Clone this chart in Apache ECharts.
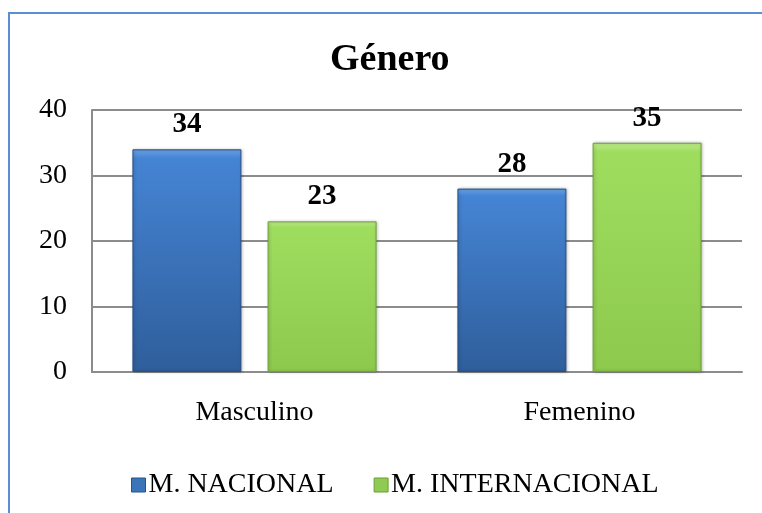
<!DOCTYPE html>
<html>
<head>
<meta charset="utf-8">
<script src="https://cdn.jsdelivr.net/npm/echarts@6/dist/echarts.min.js"></script>
<style>
  html, body { margin: 0; padding: 0; background: #fff; }
  #chart { width: 762px; height: 513px; }
</style>
</head>
<body>
<div id="chart"></div>
<script>
  // datos
  var categorias = ['Masculino', 'Femenino'];
  var nacional = [34, 28];
  var internacional = [23, 35];
  var yTicks = [0, 10, 20, 30, 40];

  var fuente = '"Liberation Serif", "Times New Roman", serif';

  // degradado vertical con borde superior claro (bisel)
  function bisel(luz, arriba, abajo) {
    return {
      type: 'linear', x: 0, y: 0, x2: 0, y2: 1,
      colorStops: [
        {offset: 0, color: luz},
        {offset: 0.04, color: arriba},
        {offset: 1, color: abajo}
      ]
    };
  }

  var chart = echarts.init(document.getElementById('chart'));
  var option = {
    animation: false,
    backgroundColor: '#fff',
    graphic: [{
      type: 'rect',
      shape: {x: 9, y: 13, width: 800, height: 600},
      style: {fill: 'none', stroke: '#5b8ed3', lineWidth: 2},
      z: 100
    }],
    title: {
      text: 'Género',
      left: 325,
      top: 36,
      textStyle: {fontFamily: fuente, fontSize: 38, fontWeight: 'bold', color: '#000'}
    },
    legend: {
      top: 466,
      left: 126,
      itemWidth: 14,
      itemHeight: 14,
      itemGap: 40,
      icon: 'rect',
      textStyle: {fontFamily: fuente, fontSize: 28, color: '#000', padding: [0, 0, 0, -2]},
      data: [
        {name: 'M. NACIONAL', itemStyle: {color: '#3c74ba', borderColor: '#28528a', borderWidth: 1}},
        {name: 'M. INTERNACIONAL', itemStyle: {color: '#8fca52', borderColor: '#6b9f34', borderWidth: 1}}
      ]
    },
    grid: {left: 92, right: 20, top: 110, bottom: 141, containLabel: false},
    xAxis: {
      type: 'category',
      data: categorias,
      axisLine: {lineStyle: {color: '#8c8c8c', width: 2}},
      axisTick: {show: false},
      axisLabel: {fontFamily: fuente, fontSize: 28, color: '#000', margin: 27}
    },
    yAxis: {
      type: 'value',
      min: yTicks[0],
      max: yTicks[yTicks.length - 1],
      interval: 10,
      axisLine: {show: true, lineStyle: {color: '#8c8c8c', width: 2}},
      axisTick: {show: false},
      splitLine: {lineStyle: {color: '#8c8c8c', width: 2}},
      axisLabel: {fontFamily: fuente, fontSize: 28, color: '#000', margin: 25}
    },
    series: [
      {
        name: 'M. NACIONAL',
        type: 'bar',
        data: nacional,
        barWidth: 109,
        barGap: '24%',
        itemStyle: {
          color: bisel('#6aa3e6', '#4584d4', '#2f5e9b'),
          borderColor: '#284f82',
          borderWidth: 1,
          shadowColor: 'rgba(0,0,0,0.25)',
          shadowBlur: 3,
          shadowOffsetX: 1
        },
        label: {
          show: true, position: 'top', distance: 10,
          fontFamily: fuente, fontSize: 29, fontWeight: 'bold', color: '#000'
        }
      },
      {
        name: 'M. INTERNACIONAL',
        type: 'bar',
        data: internacional,
        barWidth: 109,
        itemStyle: {
          color: bisel('#bdeb8c', '#9fdd5f', '#8cc94c'),
          borderColor: '#6e9f38',
          borderWidth: 1,
          shadowColor: 'rgba(0,0,0,0.25)',
          shadowBlur: 3,
          shadowOffsetX: 1
        },
        label: {
          show: true, position: 'top', distance: 10,
          fontFamily: fuente, fontSize: 29, fontWeight: 'bold', color: '#000'
        }
      }
    ]
  };
  chart.setOption(option);
</script>
</body>
</html>
